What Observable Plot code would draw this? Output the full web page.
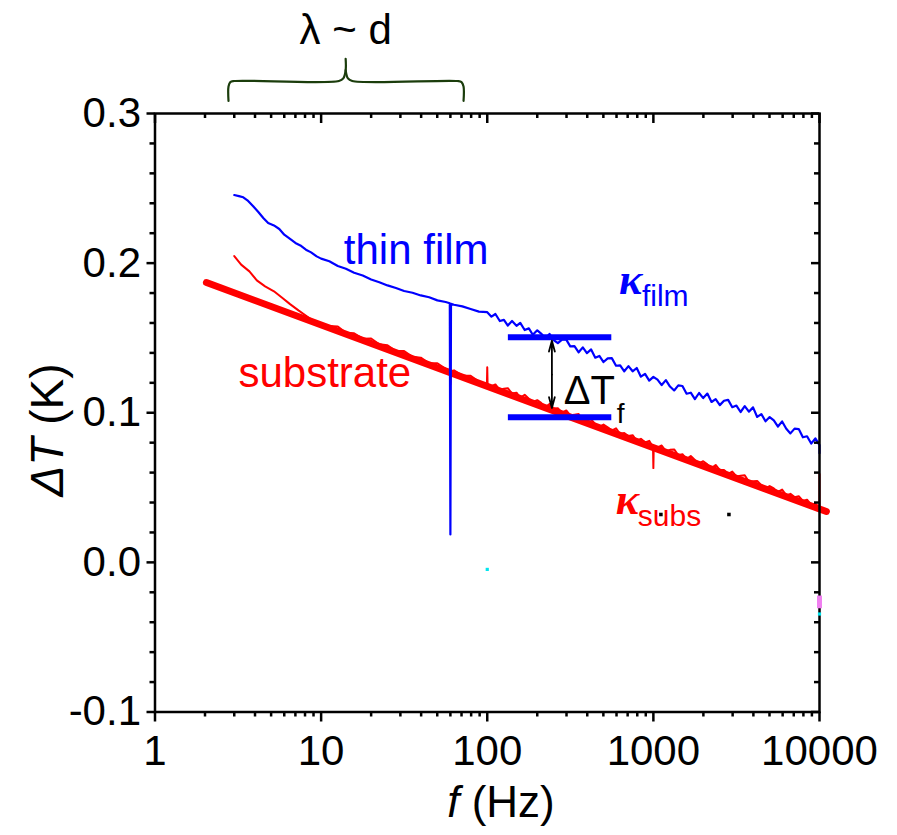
<!DOCTYPE html>
<html><head><meta charset="utf-8">
<script src="https://cdn.jsdelivr.net/npm/d3@7"></script>
<script src="https://cdn.jsdelivr.net/npm/@observablehq/plot@0.6"></script>
<style>body{margin:0;background:#fff}</style>
</head><body><div id="chart"></div>
<script>
// ---- axes ----
const xMajor = [1, 10, 100, 1000, 10000];
const xMinor = [2,3,4,5,6,7,8,9,20,30,40,50,60,70,80,90,200,300,400,500,600,700,800,900,2000,3000,4000,5000,6000,7000,8000,9000];
const yMajor = [-0.1, 0.0, 0.1, 0.2, 0.3];
const yMinor = [-0.08,-0.06,-0.04,-0.02,0.02,0.04,0.06,0.08,0.12,0.14,0.16,0.18,0.22,0.24,0.26,0.28];

// ---- thin film (blue) ----
const blueF = [3.0,3.2,3.4,3.6,3.9,4.2,4.5,4.8,5.2,5.6,6.0,6.5,7.0,7.5,8.1,8.7,9.4,10,
  11.2,12.6,14.1,15.8,17.8,20,22.4,25.1,28.2,31.6,35.5,39.8,44.7,50.1,56.2,59.5,60,60.5,63.1,70.8,79.4,89.1,
  100,106,112,119,126,133,141,150,158,168,178,188,200,211,224,237,251,266,282,299,316,335,355,376,398,422,447,473,501,531,562,596,631,668,708,750,794,841,891,944,
  1000,1059,1122,1189,1259,1334,1413,1496,1585,1679,1778,1884,1995,2113,2239,2371,2512,2661,2818,2985,3162,3350,3548,3758,3981,4217,4467,4732,5012,5309,5623,5957,6310,6683,7079,7499,7943,8414,8913,9441,10000,10000];
const blueV = [0.2455,0.2448,0.2440,0.2420,0.2380,0.2340,0.2300,0.2268,0.2252,0.2228,0.2190,0.2162,0.2135,0.2118,0.2090,0.2072,0.2045,0.2030,
  0.2012,0.1981,0.1962,0.1936,0.1917,0.1891,0.1872,0.1851,0.1834,0.1814,0.1802,0.1784,0.1772,0.1751,0.1740,0.1732,0.0187,0.1728,0.1722,0.1711,0.1693,0.1676,
  0.1672,0.1642,0.1660,0.1613,0.1621,0.1583,0.1613,0.1581,0.1601,0.1553,0.1564,0.1521,0.1551,0.1529,0.1497,0.1527,0.1486,0.1465,0.1489,0.1489,0.1444,0.1445,0.1404,0.1437,0.1399,0.1423,0.1368,0.1380,0.1339,0.1363,0.1365,0.1314,0.1317,0.1277,0.1312,0.1277,0.1299,0.1241,0.1260,0.1215,
  0.1240,0.1221,0.1185,0.1218,0.1175,0.1149,0.1183,0.1179,0.1127,0.1134,0.1091,0.1132,0.1098,0.1128,0.1072,0.1091,0.1051,0.1080,0.1086,0.1037,0.1048,0.1005,0.1044,0.1007,0.1036,0.0972,0.0991,0.0943,0.0971,0.0949,0.0908,0.0942,0.0893,0.0862,0.0894,0.0891,0.0836,0.0843,0.0794,0.0829,0.0784,0.0730];

// ---- substrate (red, thin measured line) ----
const redF = [3.0,3.3,3.7,4.1,4.6,5.2,5.8,6.5,7.3,8.2,9.2,10,
  11.2,12.6,14.1,15.8,17.8,20,22.4,25.1,28.2,31.6,35.5,39.8,44.7,50.1,56.2,59.5,60,60.5,63.1,70.8,79.4,89.1,99.5,100,100.5,
  106,112,119,126,133,141,150,158,168,178,188,200,211,224,237,251,266,282,299,316,335,355,376,398,422,447,473,501,531,562,596,631,668,708,750,794,841,891,944,995,1000,1005,
  1059,1122,1189,1259,1334,1413,1496,1585,1679,1778,1884,1995,2113,2239,2371,2512,2661,2818,2985,3162,3350,3548,3758,3981,4217,4467,4732,5012,5309,5623,5957,6310,6683,7079,7499,7943,8414,8913,9441,10000,10000];
const redV = [0.2047,0.1990,0.1945,0.1885,0.1845,0.1812,0.1770,0.1726,0.1684,0.1645,0.1605,0.1592,
  0.1579,0.1576,0.1534,0.1531,0.1495,0.1496,0.1458,0.1451,0.1412,0.1412,0.1374,0.1368,0.1331,0.1331,0.1293,0.1274,0.1190,0.1272,0.1284,0.1248,0.1247,0.1209,0.1180,0.1304,0.1180,
  0.1177,0.1189,0.1152,0.1160,0.1164,0.1128,0.1134,0.1100,0.1120,0.1093,0.1073,0.1084,0.1066,0.1038,0.1059,0.1028,0.1030,0.1001,0.1015,0.0983,0.0987,0.0991,0.0948,0.0951,0.0955,0.0924,0.0906,0.0921,0.0903,0.0880,0.0896,0.0858,0.0865,0.0845,0.0850,0.0813,0.0826,0.0802,0.0812,0.0770,0.0630,0.0770,
  0.0769,0.0781,0.0743,0.0752,0.0755,0.0716,0.0723,0.0690,0.0711,0.0684,0.0662,0.0676,0.0655,0.0630,0.0651,0.0617,0.0618,0.0592,0.0607,0.0574,0.0579,0.0582,0.0539,0.0543,0.0544,0.0516,0.0496,0.0510,0.0494,0.0471,0.0486,0.0448,0.0458,0.0436,0.0442,0.0411,0.0419,0.0385,0.0392,0.0365,0.0590];

// ---- substrate fit (thick red line) ----
const fitF = [2.04, 11000];
const fitV = [0.187, 0.0340];

// ---- delta T_f markers ----
const barF1 = [134, 134];
const barF2 = [562, 562];
const barV = [0.1505, 0.0970];
const arrowF = 245;
const arrowMid = 0.1255;
const arrowEnds = [0.1482, 0.1032];

// ---- brace over lambda ~ d range ----
const braceLeftF = [2.77, 2.77, 2.84, 3.0, 12.8, 13.6, 14.05, 14.05];
const braceLeftV = [0.3084, 0.3180, 0.3210, 0.3217, 0.3217, 0.3235, 0.3290, 0.3365];
const braceRightF = [14.05, 14.5, 15.4, 66, 70, 72, 72];
const braceRightV = [0.3290, 0.3235, 0.3217, 0.3217, 0.3210, 0.3180, 0.3084];

// ---- stray points ----
const blackDotF = [1110, 2850];
const blackDotV = [0.032, 0.032];
const cyanDotF = [100, 10000];
const cyanDotV = [-0.0047, -0.0345];
const magentaF = [10000];
const magentaV1 = [-0.0225];
const magentaV2 = [-0.0310];

// ---- labels ----
const labelThin = {f: 13.7, v: 0.1993, text: "thin film"};
const labelSub = {f: 3.18, v: 0.1170, text: "substrate"};
const labelLambda = {f: 14.05, v: 0.3465, text: "λ ~ d"};
const labelKFilm = {f: 620, v: 0.1793, main: "κ", sub: "film"};
const labelKSubs = {f: 594, v: 0.0321, main: "κ", sub: "subs"};
const labelDT = {f: 289, v: 0.1057, main: "ΔT", sub: "f"};

const zip = (F, V) => F.map((f, i) => ({f, v: V[i]}));
const blue = zip(blueF, blueV);
const red = zip(redF, redV);
const fit = zip(fitF, fitV);
const bars = barV.map((v, i) => ({f1: barF1[i], f2: barF2[i], v}));
const arrows = arrowEnds.map(e => ({f: arrowF, v1: arrowMid, v2: e}));
const braceL = zip(braceLeftF, braceLeftV);
const braceR = zip(braceRightF, braceRightV);
const blackDots = zip(blackDotF, blackDotV);
const cyanDots = zip(cyanDotF, cyanDotV);
const magenta = magentaF.map((f, i) => ({f, v1: magentaV1[i], v2: magentaV2[i]}));

const W = 897, H = 835, mL = 154.5, mR = 78, mT = 113, mB = 123.5;
const plotW = W - mL - mR, plotH = H - mT - mB;
const sans = "'Liberation Sans', Arial, Helvetica, sans-serif";
const serif = "'Liberation Serif', 'Times New Roman', serif";
const BLUE = "#0000ff", RED = "#ff0000";

const chart = Plot.plot({
  width: W, height: H,
  marginLeft: mL, marginRight: mR, marginTop: mT, marginBottom: mB,
  x: {type: "log", domain: [1, 10000]},
  y: {domain: [-0.1, 0.3]},
  style: {fontFamily: sans, background: "white", color: "black"},
  marks: [
    // substrate
    Plot.line(fit, {x: "f", y: "v", stroke: RED, strokeWidth: 7}),
    Plot.line(red, {x: "f", y: "v", stroke: RED, strokeWidth: 2}),
    // film
    Plot.line(blue, {x: "f", y: "v", stroke: BLUE, strokeWidth: 2.2}),
    // delta T markers
    Plot.ruleY(bars, {y: "v", x1: "f1", x2: "f2", stroke: BLUE, strokeWidth: 6}),
    Plot.arrow(arrows, {x1: "f", x2: "f", y1: "v1", y2: "v2", stroke: "black", strokeWidth: 1.8, headLength: 12, headAngle: 30}),
    // brace
    Plot.line(braceL, {x: "f", y: "v", stroke: "#1b3d0c", strokeWidth: 2.2, curve: "catmull-rom"}),
    Plot.line(braceR, {x: "f", y: "v", stroke: "#1b3d0c", strokeWidth: 2.2, curve: "catmull-rom"}),
    // labels
    Plot.text([labelThin], {x: "f", y: "v", text: "text", fill: BLUE, fontSize: 42, textAnchor: "start", lineAnchor: "bottom"}),
    Plot.text([labelSub], {x: "f", y: "v", text: "text", fill: RED, fontSize: 42, textAnchor: "start", lineAnchor: "bottom"}),
    Plot.text([labelLambda], {x: "f", y: "v", text: "text", fill: "black", fontSize: 42, textAnchor: "middle", lineAnchor: "bottom"}),
    Plot.text([labelKFilm], {x: "f", y: "v", text: "main", fill: BLUE, fontSize: 44, fontFamily: serif, fontStyle: "italic", fontWeight: "bold", textAnchor: "start", lineAnchor: "bottom"}),
    Plot.text([labelKFilm], {x: "f", y: "v", text: "sub", fill: BLUE, fontSize: 30, textAnchor: "start", lineAnchor: "bottom", dx: 23, dy: 12}),
    Plot.text([labelKSubs], {x: "f", y: "v", text: "main", fill: RED, fontSize: 44, fontFamily: serif, fontStyle: "italic", fontWeight: "bold", textAnchor: "start", lineAnchor: "bottom"}),
    Plot.text([labelKSubs], {x: "f", y: "v", text: "sub", fill: RED, fontSize: 30, textAnchor: "start", lineAnchor: "bottom", dx: 22, dy: 12}),
    Plot.text([labelDT], {x: "f", y: "v", text: "main", fill: "black", fontSize: 40, textAnchor: "start", lineAnchor: "bottom"}),
    Plot.text([labelDT], {x: "f", y: "v", text: "sub", fill: "black", fontSize: 28, textAnchor: "start", lineAnchor: "bottom", dx: 53, dy: 19}),
    // axes
    Plot.axisX(xMajor, {tickSize: 10, tickPadding: 13, strokeWidth: 2.5, fontSize: 42, tickFormat: d => String(d), label: null}),
    Plot.axisX(xMinor, {tickSize: 5, strokeWidth: 2.5, tickFormat: () => "", label: null}),
    Plot.axisY(yMajor, {tickSize: 8, tickPadding: 6, strokeWidth: 2.5, fontSize: 42, tickFormat: d => d.toFixed(1), label: null}),
    Plot.axisY(yMinor, {tickSize: 5, strokeWidth: 2.5, tickFormat: () => "", label: null}),
    Plot.tickX(xMajor, {x: d => d, insetBottom: plotH - 10, strokeWidth: 2.5}),
    Plot.tickX(xMinor, {x: d => d, insetBottom: plotH - 5, strokeWidth: 2.5}),
    Plot.tickY(yMajor, {y: d => d, insetLeft: plotW - 8, strokeWidth: 2.5}),
    Plot.tickY(yMinor, {y: d => d, insetLeft: plotW - 5, strokeWidth: 2.5}),
    Plot.frame({stroke: "black", strokeWidth: 2.5}),
    // stray points (drawn above frame)
    Plot.ruleX(magenta, {x: "f", y1: "v1", y2: "v2", stroke: "#f080f0", strokeWidth: 5}),
    Plot.dot(cyanDots, {x: "f", y: "v", symbol: "square", r: 1.8, fill: "#00e5ee"}),
    Plot.dot(blackDots, {x: "f", y: "v", symbol: "square", r: 2, fill: "black"})
  ]
});
document.getElementById("chart").append(chart);

// axis titles with italic symbols
const svg = d3.select(chart);
const xt = svg.append("text").attr("x", 501).attr("y", 817).attr("text-anchor", "middle")
  .attr("font-size", 44).attr("font-family", sans).attr("fill", "black");
xt.append("tspan").attr("font-style", "italic").text("f");
xt.append("tspan").text(" (Hz)");
const yt = svg.append("text").attr("transform", "translate(63,430) rotate(-90)").attr("text-anchor", "middle")
  .attr("font-size", 46).attr("font-family", sans).attr("fill", "black");
yt.append("tspan").attr("font-style", "italic").text("ΔT");
yt.append("tspan").text(" (K)");
</script>
</body></html>
